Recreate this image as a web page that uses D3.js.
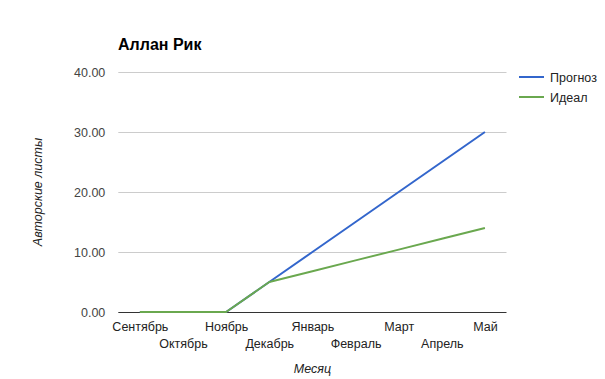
<!DOCTYPE html>
<html><head><meta charset="utf-8">
<script src="https://cdn.jsdelivr.net/npm/d3@7"></script>
<style>body{margin:0;background:#fff;}svg{display:block;font-family:"Liberation Sans",Arial,sans-serif;}</style>
</head><body><svg id="c" width="605" height="379"></svg>
<script>
const months = ["Сентябрь","Октябрь","Ноябрь","Декабрь","Январь","Февраль","Март","Апрель","Май"];
const forecast = [0,0,0,5,10,15,20,25,30];
const ideal = [0,0,0,5,6.8,8.6,10.4,12.2,14];
const yTicks = [0,10,20,30,40];
const seriesNames = ["Прогноз","Идеал"];
const colors = ["#3366cc","#6aa84f"];
const title = "Аллан Рик";
const xTitle = "Месяц";
const yTitle = "Авторские листы";

const svg = d3.select("#c");
const L = 118.3, R = 506.5, T = 72, B = 312;
const x = d3.scalePoint().domain(months).range([L, R]).padding(0.5);
const y = d3.scaleLinear().domain([0,40]).range([B, T]);

svg.append("text").attr("x",118).attr("y",50).attr("font-size",16).attr("font-weight","bold").attr("fill","#000").text(title);

// gridlines
const yAxis = d3.axisLeft(y).tickValues(yTicks).tickSize(-(R-L)).tickFormat(d=>d3.format(".2f")(d));
const gy = svg.append("g").attr("transform",`translate(${L},0)`).call(yAxis);
gy.select(".domain").remove();
gy.selectAll(".tick line").attr("stroke","#cccccc").attr("stroke-width",1);
gy.selectAll(".tick text").attr("x",-13).attr("fill","#444").attr("font-size",12.5).attr("font-family","Liberation Sans, Arial, sans-serif");
gy.selectAll(".tick").filter(d=>d===0).select("line").attr("stroke","#333");

const xAxis = d3.axisBottom(x).tickSize(0);
const gx = svg.append("g").attr("transform",`translate(0,${B})`).call(xAxis);
gx.select(".domain").remove();
gx.selectAll(".tick text").attr("fill","#222").attr("font-size",12.5).attr("font-family","Liberation Sans, Arial, sans-serif")
  .attr("dy",null).attr("y",(d,i)=> i%2===0 ? 19 : 36);

const line = d3.line().x((d,i)=>x(months[i])).y(d=>y(d));
[forecast, ideal].forEach((s,k)=>{
  svg.append("path").datum(s).attr("d",line).attr("fill","none").attr("stroke",colors[k]).attr("stroke-width",2).attr("stroke-linejoin","round");
});

svg.append("text").attr("x",(L+R)/2).attr("y",373).attr("text-anchor","middle").attr("font-style","italic").attr("font-size",12.5).attr("fill","#222").text(xTitle);
svg.append("text").attr("transform",`translate(42,${(T+B)/2}) rotate(-90)`).attr("text-anchor","middle").attr("font-style","italic").attr("font-size",12.5).attr("fill","#222").text(yTitle);

seriesNames.forEach((n,k)=>{
  const yy = 77 + k*20;
  svg.append("line").attr("x1",519).attr("x2",544).attr("y1",yy).attr("y2",yy).attr("stroke",colors[k]).attr("stroke-width",2);
  svg.append("text").attr("x",550).attr("y",yy+4.5).attr("font-size",12.5).attr("fill","#222").text(n);
});
</script></body></html>
